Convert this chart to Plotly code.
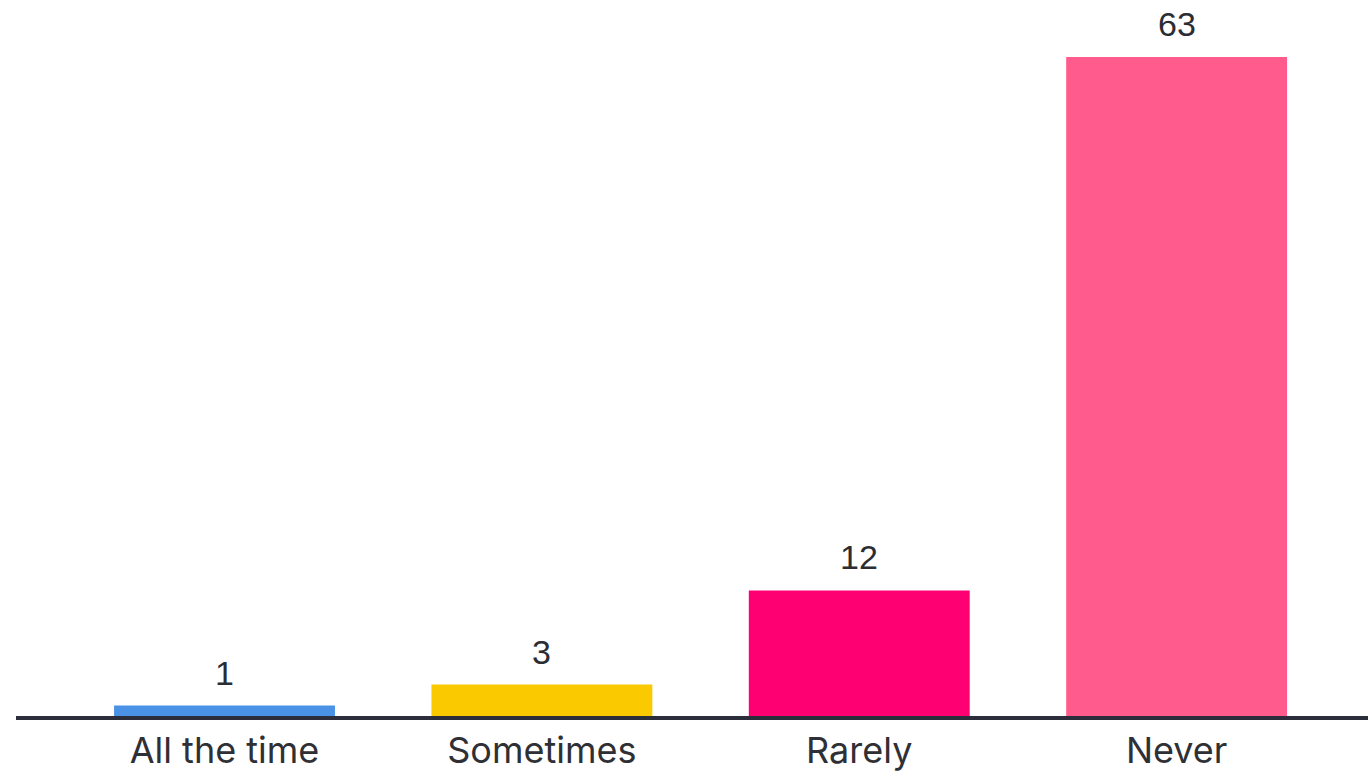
import plotly.graph_objects as go

categories = ["All the time", "Sometimes", "Rarely", "Never"]
counts = [1, 3, 12, 63]
bar_colors = ["#4A92E6", "#FBC900", "#FF0073", "#FF5B8C"]

fig = go.Figure(
    go.Bar(
        x=categories,
        y=counts,
        marker=dict(color=bar_colors, line=dict(width=0)),
        cliponaxis=False,
    )
)

# value labels sitting above each bar
for cat, val in zip(categories, counts):
    fig.add_annotation(
        x=cat,
        y=val,
        text=str(val),
        showarrow=False,
        xanchor="center",
        yanchor="bottom",
        yshift=12,
        font=dict(family="Liberation Sans, Arial, sans-serif", size=34, color="#2B2D33"),
    )

fig.update_layout(
    width=1368,
    height=773,
    margin=dict(l=16, r=0, t=0, b=57),
    paper_bgcolor="white",
    plot_bgcolor="white",
    bargap=0.304,
    showlegend=False,
)

fig.update_xaxes(
    range=[-0.657, 3.603],
    showline=True,
    linecolor="#2B2E3A",
    linewidth=4,
    showgrid=False,
    zeroline=False,
    ticks="",
    tickfont=dict(family="Inter, Arial, sans-serif", size=36, color="#2F3035"),
)
fig.update_yaxes(
    range=[0, 68.45],
    visible=False,
    showgrid=False,
    zeroline=False,
)

fig.write_html("out.html")
